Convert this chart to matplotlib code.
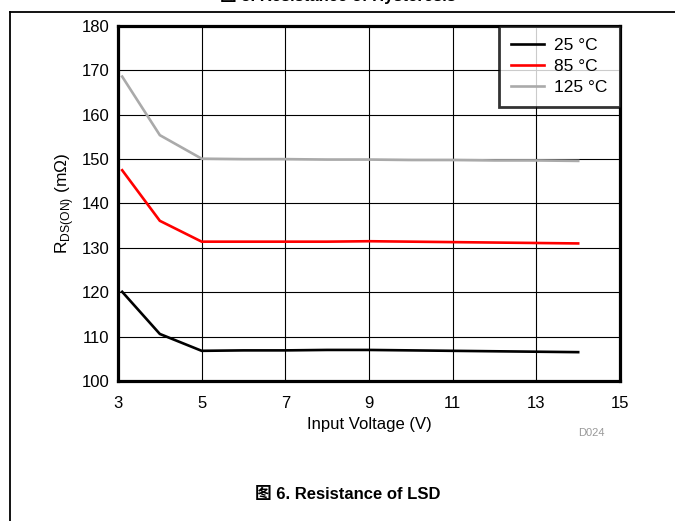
import matplotlib
matplotlib.use("Agg")
import matplotlib.pyplot as plt
from matplotlib.lines import Line2D

plt.rcParams['font.family'] = ['Liberation Sans', 'Noto Sans CJK SC', 'DejaVu Sans']

voltage = [3.1, 4, 5, 6, 7, 8, 9, 10, 11, 12, 13, 14]
r_25 = [120.1, 110.6, 106.8, 106.9, 106.9, 107.0, 107.0, 106.9, 106.8, 106.7, 106.6, 106.5]
r_85 = [147.5, 136.1, 131.4, 131.4, 131.4, 131.4, 131.5, 131.4, 131.3, 131.2, 131.1, 131.0]
r_125 = [168.6, 155.4, 150.1, 150.0, 150.0, 149.9, 149.9, 149.8, 149.8, 149.7, 149.7, 149.6]
labels = ["25 °C", "85 °C", "125 °C"]
colors = ["#000000", "#ff0000", "#aaaaaa"]
x_ticks = [3, 5, 7, 9, 11, 13, 15]
y_ticks = [100, 110, 120, 130, 140, 150, 160, 170, 180]

W, H = 675, 521
fig = plt.figure(figsize=(W / 100, H / 100), dpi=100)
ax = fig.add_axes([118 / W, 1 - 381 / H, (620 - 118) / W, (381 - 26) / H])

for ys, lab, c in zip([r_25, r_85, r_125], labels, colors):
    ax.plot(voltage, ys, color=c, lw=1.9, label=lab, zorder=3, solid_joinstyle='miter')

ax.set_xlim(3, 15)
ax.set_ylim(100, 180)
ax.set_xticks(x_ticks)
ax.set_yticks(y_ticks)
ax.grid(True, color='#000000', lw=0.8, zorder=1)
ax.set_axisbelow(True)
ax.tick_params(length=0, labelsize=12)
ax.tick_params(axis='x', pad=11)
ax.tick_params(axis='y', pad=6)
for s in ax.spines.values():
    s.set_linewidth(2.3)
    s.set_zorder(5)

ax.set_xlabel("Input Voltage (V)", fontsize=12, labelpad=4)
ax.set_ylabel(r"R$_\mathregular{DS(ON)}$ (m$\mathregular{\Omega}$)", fontsize=12.5, labelpad=4)

leg = ax.legend(loc='upper right', fontsize=12.5, frameon=True, fancybox=False,
                borderaxespad=0, handlelength=1.9, handletextpad=0.6,
                labelspacing=0.33, borderpad=0.7)
leg.get_frame().set_edgecolor('black')
leg.get_frame().set_linewidth(2)
leg.set_zorder(6)

fig.text(605 / W, 1 - 433 / H, "D024", color='#999999', fontsize=8, ha='right', va='center')
fig.text(348 / W, 1 - 494 / H, "图 6. Resistance of LSD", fontsize=12, fontweight='bold',
         ha='center', va='center')
fig.text(338 / W, 1 - 0.5 / H, "图 5. Resistance of Hysteresis", fontsize=12, fontweight='bold',
         ha='center', va='baseline')

fig.add_artist(Line2D([10 / W, 10 / W], [0, 1 - 12 / H], color='black', lw=1.3,
                      transform=fig.transFigure))
fig.add_artist(Line2D([10 / W, 1], [1 - 12 / H, 1 - 12 / H], color='black', lw=1.3,
                      transform=fig.transFigure))

fig.savefig("out.png", dpi=100)
